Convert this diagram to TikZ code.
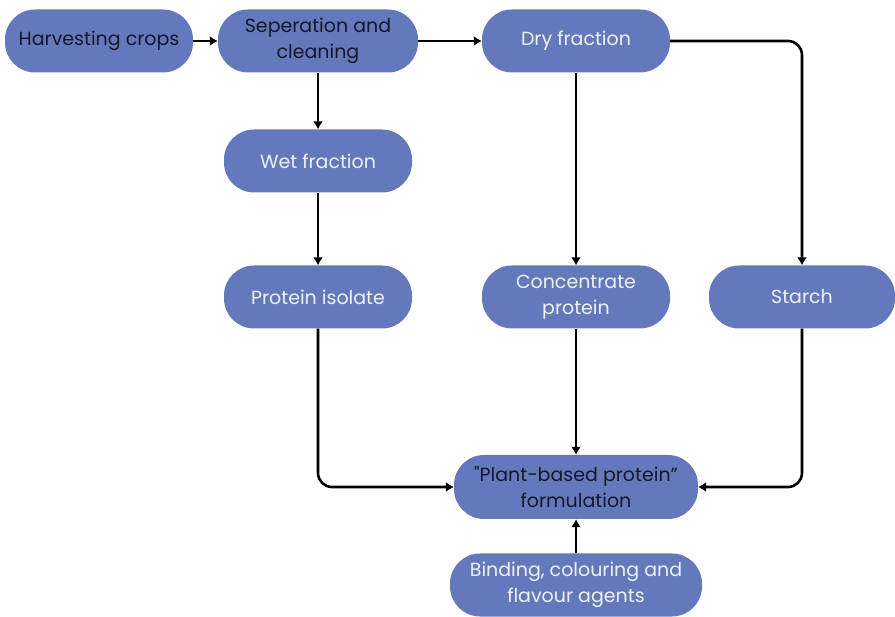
\documentclass[tikz,border=0pt]{standalone}
\usepackage{fontspec}
\setmainfont{Poppins}[Ligatures=TeXOff]
\usetikzlibrary{arrows.meta}
\definecolor{boxfill}{HTML}{6479BC}
\definecolor{lighttext}{HTML}{EEF1F8}
\definecolor{darktext}{HTML}{15172A}
\tikzset{
  stage/.style={draw=none, fill=boxfill, rounded corners=30pt, minimum height=63pt,
    align=center, inner sep=0pt, font=\fontsize{19}{26}\selectfont},
  lightlabel/.style={text=lighttext},
  darklabel/.style={text=darktext},
  flow/.style={line width=2.6pt, -{Latex[length=8pt,width=10pt]}, rounded corners=14pt}
}
\begin{document}
\begin{tikzpicture}[x=1pt,y=-1pt]
\useasboundingbox (0,0) rectangle (895,617);
% process stages
\node[stage, darklabel, minimum width=188pt] (harvest) at (99,41) {Harvesting crops};
\node[stage, darklabel, minimum width=200pt] (separate) at (318,41) {Seperation and\\cleaning};
\node[stage, lightlabel, minimum width=188pt] (dry) at (576,41) {Dry fraction};
\node[stage, lightlabel, minimum width=188pt] (wet) at (318,161) {Wet fraction};
\node[stage, lightlabel, minimum width=188pt] (isolate) at (318,297) {Protein isolate};
\node[stage, lightlabel, minimum width=188pt] (concentrate) at (576,297) {Concentrate\\protein};
\node[stage, lightlabel, minimum width=186pt] (starch) at (802,297) {Starch};
\node[stage, darklabel, minimum width=244pt, minimum height=64pt] (formulation) at (576,487) {"Plant-based protein”\\formulation};
\node[stage, lightlabel, minimum width=252pt] (agents) at (576,585) {Binding, colouring and\\flavour agents};
% connectors
\draw[flow] (harvest) -- (separate);
\draw[flow] (separate) -- (dry);
\draw[flow] (separate) -- (wet);
\draw[flow] (wet) -- (isolate);
\draw[flow] (dry) -- (concentrate);
\draw[flow] (dry.east) -| (starch.north);
\draw[flow] (isolate.south) |- (formulation.west);
\draw[flow] (concentrate) -- (formulation);
\draw[flow] (starch.south) |- (formulation.east);
\draw[flow] (agents) -- (formulation);
\end{tikzpicture}
\end{document}
